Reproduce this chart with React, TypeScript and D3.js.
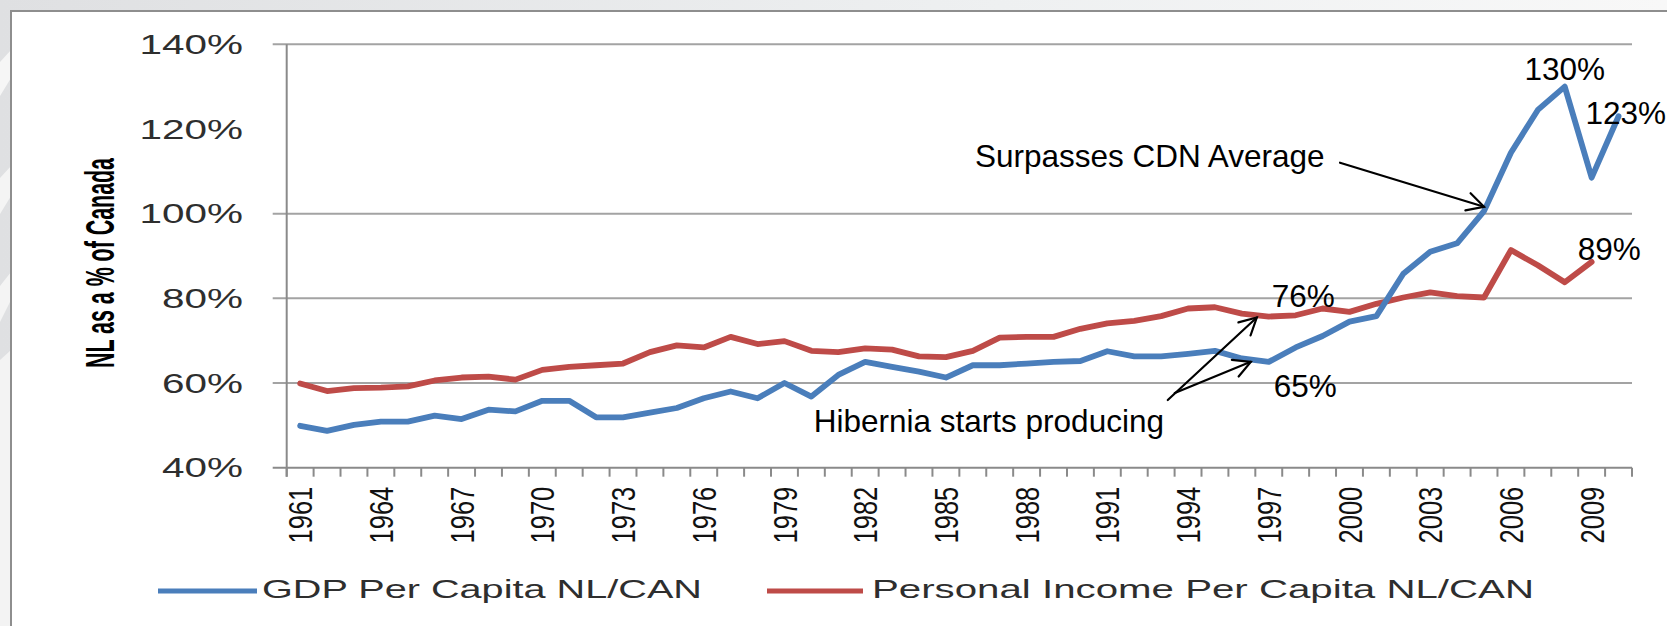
import React from 'react';
import * as d3 from 'd3';

// ---------- data ----------
const years: number[] = [
  1961, 1962, 1963, 1964, 1965, 1966, 1967, 1968, 1969, 1970,
  1971, 1972, 1973, 1974, 1975, 1976, 1977, 1978, 1979, 1980,
  1981, 1982, 1983, 1984, 1985, 1986, 1987, 1988, 1989, 1990,
  1991, 1992, 1993, 1994, 1995, 1996, 1997, 1998, 1999, 2000,
  2001, 2002, 2003, 2004, 2005, 2006, 2007, 2008, 2009, 2010,
];

// GDP per capita, NL as % of Canada
const gdpPerCapita: (number | null)[] = [
  49.9, 48.7, 50.1, 50.9, 50.9, 52.3, 51.5, 53.7, 53.3, 55.8,
  55.8, 51.9, 51.9, 53.0, 54.1, 56.4, 58.0, 56.4, 60.0, 56.8,
  61.9, 65.0, 63.8, 62.7, 61.3, 64.2, 64.2, 64.6, 65.0, 65.2,
  67.5, 66.3, 66.3, 66.9, 67.6, 65.8, 65.0, 68.4, 71.1, 74.5,
  75.8, 85.8, 91.0, 93.0, 100.6, 114.4, 124.5, 130.0, 108.5, 123.0,
];

// Personal income per capita, NL as % of Canada
const personalIncomePerCapita: (number | null)[] = [
  59.9, 58.1, 58.8, 58.9, 59.2, 60.6, 61.3, 61.5, 60.8, 63.1,
  63.8, 64.2, 64.6, 67.3, 68.9, 68.4, 70.9, 69.2, 69.9, 67.6,
  67.3, 68.2, 67.9, 66.3, 66.1, 67.6, 70.7, 70.9, 70.9, 72.8,
  74.1, 74.7, 75.8, 77.6, 77.9, 76.4, 75.7, 76.0, 77.6, 76.8,
  78.7, 80.2, 81.4, 80.5, 80.2, 91.4, 87.8, 83.8, 88.6, null,
];

const yTickValues: number[] = [40, 60, 80, 100, 120, 140];
const yGridValues: number[] = [60, 80, 100, 140]; // the 120% line is absent in the reference
const xLabelYears: number[] = [
  1961, 1964, 1967, 1970, 1973, 1976, 1979, 1982, 1985, 1988,
  1991, 1994, 1997, 2000, 2003, 2006, 2009,
];
const seriesNames: string[] = ['GDP Per Capita NL/CAN', 'Personal Income Per Capita NL/CAN'];
const yAxisTitle = 'NL as a % of Canada';

// ---------- component ----------
const BLUE = '#4a7ebb';
const RED = '#be4b48';
const GRID = '#a3a3a3';
const AXIS = '#8a8a8a';
const SANS = '"Liberation Sans", Arial, sans-serif';

function arrow(x1: number, y1: number, x2: number, y2: number, key: string) {
  const ang = Math.atan2(y2 - y1, x2 - x1);
  const len = 19;
  const spread = (28 * Math.PI) / 180;
  const b1x = x2 - len * Math.cos(ang - spread);
  const b1y = y2 - len * Math.sin(ang - spread);
  const b2x = x2 - len * Math.cos(ang + spread);
  const b2y = y2 - len * Math.sin(ang + spread);
  return (
    <g key={key} stroke="#000" strokeWidth={2.2} fill="none" strokeLinecap="round">
      <line x1={x1} y1={y1} x2={x2} y2={y2} />
      <polyline points={`${b1x},${b1y} ${x2},${y2} ${b2x},${b2y}`} />
    </g>
  );
}

export default function App() {
  const W = 1667;
  const H = 626;
  const left = 286.7;
  const right = 1632;
  const top = 44.3;
  const bottom = 467.7;

  const x = d3.scaleBand<number>().domain(years).range([left, right]).padding(0);
  const bw = x.bandwidth();
  const cx = (yr: number) => (x(yr) as number) + bw / 2;
  const y = d3.scaleLinear().domain([40, 140]).range([bottom, top]);

  const line = d3
    .line<number | null>()
    .defined((d) => d != null)
    .x((_d, i) => cx(years[i]))
    .y((d) => y(d as number));

  const tickEdges = years.map((yr) => x(yr) as number).concat([right]);

  const idx = (yr: number) => years.indexOf(yr);
  const g2008 = gdpPerCapita[idx(2008)] as number;
  const g2010 = gdpPerCapita[idx(2010)] as number;
  const g2005 = gdpPerCapita[idx(2005)] as number;
  const g1997 = gdpPerCapita[idx(1997)] as number;
  const p1997 = personalIncomePerCapita[idx(1997)] as number;
  const p2009 = personalIncomePerCapita[idx(2009)] as number;

  const annFont = 31.5;

  // Hibernia arrows geometry (anchored to the 1997 points)
  const hibStartX = cx(1997) - 101;
  const hibStartY = y(60) + 17;

  return (
    <svg
      width={W}
      height={H}
      viewBox={`0 0 ${W} ${H}`}
      style={{ position: 'absolute', left: 0, top: 0, display: 'block' }}
    >
      <defs>
        <linearGradient id="bg" x1="0" y1="0" x2="1" y2="0">
          <stop offset="0" stopColor="#dfe0e2" />
          <stop offset="0.6" stopColor="#eef0f1" />
          <stop offset="1" stopColor="#f8f8f8" />
        </linearGradient>
      </defs>
      <rect x={0} y={0} width={W} height={H} fill="url(#bg)" />
      {/* white swooshes on the left strip */}
      <polygon points="0,62 11,50 11,78 0,96" fill="#f6f6f6" />
      <polygon points="0,178 11,166 11,196 0,214" fill="#f4f4f4" />
      <polygon points="0,286 11,272 11,300 0,322" fill="#f4f4f4" />
      <polygon points="0,360 11,350 11,626 0,626" fill="#f3f3f3" />

      {/* chart frame */}
      <rect x={11} y={11} width={W + 20} height={H + 20} fill="#ffffff" stroke="#8e8e8e" strokeWidth={2} />

      {/* gridlines + y ticks */}
      {yGridValues.map((v) => (
        <line key={`g${v}`} x1={left - 14} x2={right} y1={y(v)} y2={y(v)} stroke={GRID} strokeWidth={2} />
      ))}

      {/* axes */}
      <line x1={left - 14} x2={right} y1={bottom} y2={bottom} stroke={AXIS} strokeWidth={2} />
      <line x1={left} x2={left} y1={top} y2={bottom + 9} stroke={AXIS} strokeWidth={2} />
      {tickEdges.map((tx, i) => (
        <line key={`t${i}`} x1={tx} x2={tx} y1={bottom} y2={bottom + 9} stroke={AXIS} strokeWidth={2} />
      ))}

      {/* y tick labels (horizontally stretched as in the reference) */}
      {yTickValues.map((v) => (
        <text
          key={`yl${v}`}
          transform={`translate(243,${y(v)}) scale(1.5,1)`}
          textAnchor="end"
          dy="0.36em"
          fontFamily={SANS}
          fontSize={27}
          fill="#2e2e2e"
        >
          {`${v}%`}
        </text>
      ))}

      {/* y axis title: rotated, glyph height stretched */}
      <text
        transform={`translate(114,368) rotate(-90) scale(1,1.9)`}
        fontFamily={SANS}
        fontWeight="bold"
        fontSize={21.4}
        textLength={210}
        lengthAdjust="spacingAndGlyphs"
        fill="#000"
      >
        {yAxisTitle}
      </text>

      {/* x tick labels */}
      {xLabelYears.map((yr) => (
        <text
          key={`xl${yr}`}
          transform={`translate(${cx(yr)},543.4) rotate(-90)`}
          dy="0.36em"
          fontFamily={SANS}
          fontSize={33.5}
          textLength={56.7}
          lengthAdjust="spacingAndGlyphs"
          fill="#111"
        >
          {String(yr)}
        </text>
      ))}

      {/* series */}
      <path d={line(personalIncomePerCapita) || ''} fill="none" stroke={RED} strokeWidth={5.8} strokeLinejoin="round" strokeLinecap="round" />
      <path d={line(gdpPerCapita) || ''} fill="none" stroke={BLUE} strokeWidth={5.8} strokeLinejoin="round" strokeLinecap="round" />

      {/* legend */}
      <line x1={158} x2={257} y1={591} y2={591} stroke={BLUE} strokeWidth={5} />
      <text x={262} y={598.3} fontFamily={SANS} fontSize={25.6} textLength={440} lengthAdjust="spacingAndGlyphs" fill="#2e2e2e">
        {seriesNames[0]}
      </text>
      <line x1={767} x2={863} y1={591} y2={591} stroke={RED} strokeWidth={5} />
      <text x={872} y={598.3} fontFamily={SANS} fontSize={25.6} textLength={662} lengthAdjust="spacingAndGlyphs" fill="#2e2e2e">
        {seriesNames[1]}
      </text>

      {/* annotations */}
      <g fontFamily={SANS} fontSize={annFont} fill="#000">
        <text x={cx(2008)} y={y(g2008) - 7} textAnchor="middle">{`${Math.round(g2008)}%`}</text>
        <text x={cx(2010) - 33} y={y(g2010) + 8}>{`${Math.round(g2010)}%`}</text>
        <text x={cx(2009) - 14} y={y(p2009) - 2}>{`${Math.round(p2009)}%`}</text>
        <text x={cx(1997) + 3} y={y(p1997) - 10}>{`${Math.round(p1997)}%`}</text>
        <text x={cx(1997) + 5} y={y(g1997) + 35}>{`${Math.round(g1997)}%`}</text>
        <text x={975} y={167}>Surpasses CDN Average</text>
        <text x={hibStartX - 354} y={hibStartY + 32}>Hibernia starts producing</text>
      </g>
      {arrow(1340, 162.7, cx(2005), y(g2005) - 4.4, 'a1')}
      {arrow(hibStartX, hibStartY, cx(1997) - 12, y(p1997) + 1, 'a2')}
      {arrow(hibStartX + 7, hibStartY - 7, cx(1997) - 18, y(g1997), 'a3')}
    </svg>
  );
}
